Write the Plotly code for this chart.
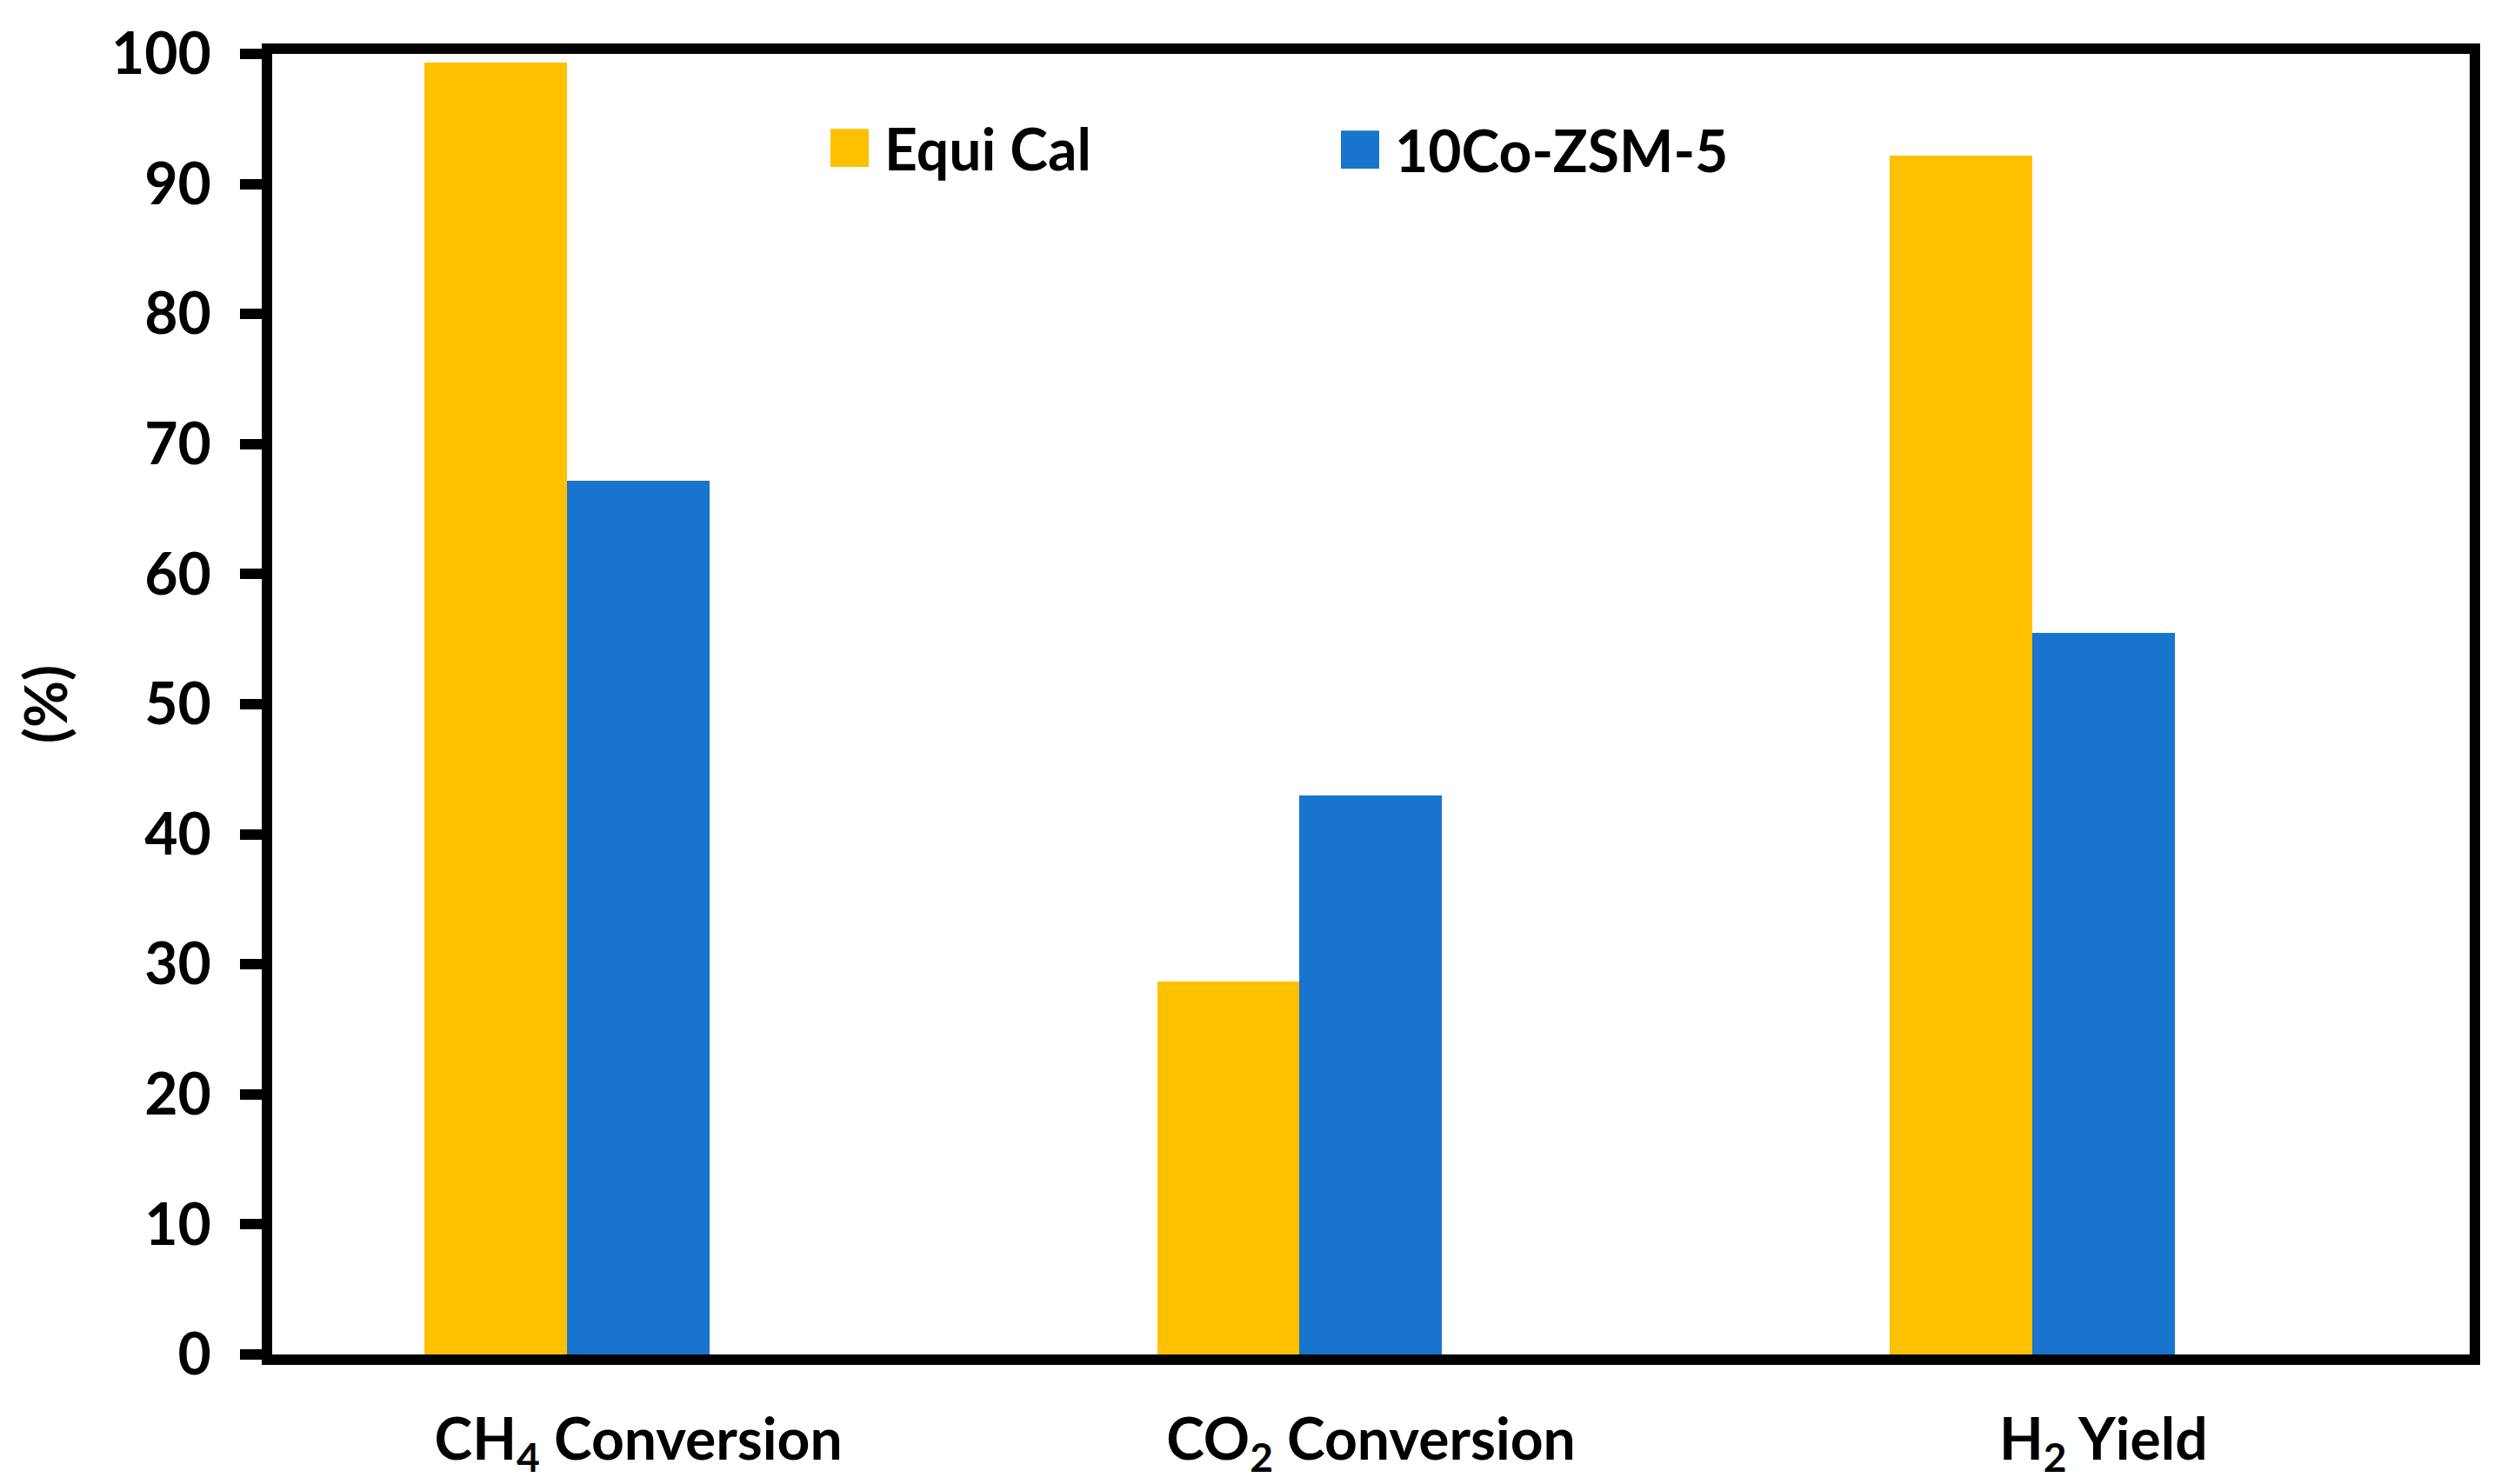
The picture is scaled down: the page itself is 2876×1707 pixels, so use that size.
import plotly.graph_objects as go

# ---- data ----
categories = ["CH<sub>4</sub> Conversion", "CO<sub>2</sub> Conversion", "H<sub>2</sub> Yield"]
series_names = ["Equi Cal", "10Co-ZSM-5"]
equi_cal = [99.3, 28.7, 92.2]
co_zsm5 = [67.2, 43.0, 55.5]
y_tick_values = [0, 10, 20, 30, 40, 50, 60, 70, 80, 90, 100]

# ---- style ----
W, H = 2876, 1707
PAGE_OFF = 8  # browser body margin
L, R, T, B = 313 - PAGE_OFF, 36 + PAGE_OFF, 50 - PAGE_OFF, 149 + PAGE_OFF
colors = ["#FFC000", "#1874CD"]
FONT = "Lato"
FS = 66
BAR_W = 0.1945
offsets = [-0.292, -0.0975]

fig = go.Figure()
for name, vals, color, off in zip(series_names, [equi_cal, co_zsm5], colors, offsets):
    fig.add_trace(go.Bar(
        x=categories, y=vals, name=name,
        marker=dict(color=color, line=dict(width=0)),
        width=BAR_W, offset=off, showlegend=False,
    ))

PW = W - L - R
PH = H - T - B


def xp(px):
    return (px - PAGE_OFF - L) / PW


def yp(py):
    return (H - B - (py - PAGE_OFF)) / PH


# custom legend (large square swatches like the original)
legend_items = [
    (955, 137, 44),
    (1542, 139, 44),
]
for (sx, sy, s), name, color in zip(legend_items, series_names, colors):
    fig.add_shape(type="rect", xref="paper", yref="paper",
                  x0=xp(sx), x1=xp(sx + s), y0=yp(sy + s), y1=yp(sy),
                  fillcolor=color, line=dict(width=0))
    fig.add_annotation(xref="paper", yref="paper", x=xp(sx + s + 16), y=yp(sy + s / 2),
                       xanchor="left", yanchor="middle", text=name, showarrow=False,
                       font=dict(family=FONT, size=FS, color="black", weight="bold"))

fig.update_layout(
    width=W, height=H,
    margin=dict(l=L, r=R, t=T, b=B),
    paper_bgcolor="white", plot_bgcolor="white",
    font=dict(family=FONT, size=FS, color="black", weight="bold"),
    showlegend=False,
    bargap=0, bargroupgap=0,
)
fig.update_xaxes(
    range=[-0.5, 2.5],
    showline=True, linewidth=12, linecolor="black", mirror=True,
    ticks="", showgrid=False, zeroline=False,
    tickfont=dict(family=FONT, size=FS, color="black", weight="bold"),
    ticklabelstandoff=30,
)
fig.update_yaxes(
    range=[0, 100],
    tickvals=y_tick_values,
    showline=True, linewidth=12, linecolor="black", mirror=True,
    ticks="outside", ticklen=25, tickwidth=12, tickcolor="black",
    showgrid=False, zeroline=False,
    tickfont=dict(family=FONT, size=FS, color="black", weight="bold"),
    ticklabelstandoff=20,
    title=dict(text="(%)", font=dict(family=FONT, size=FS, color="black", weight="bold"), standoff=34),
)

fig.write_html("out.html")
